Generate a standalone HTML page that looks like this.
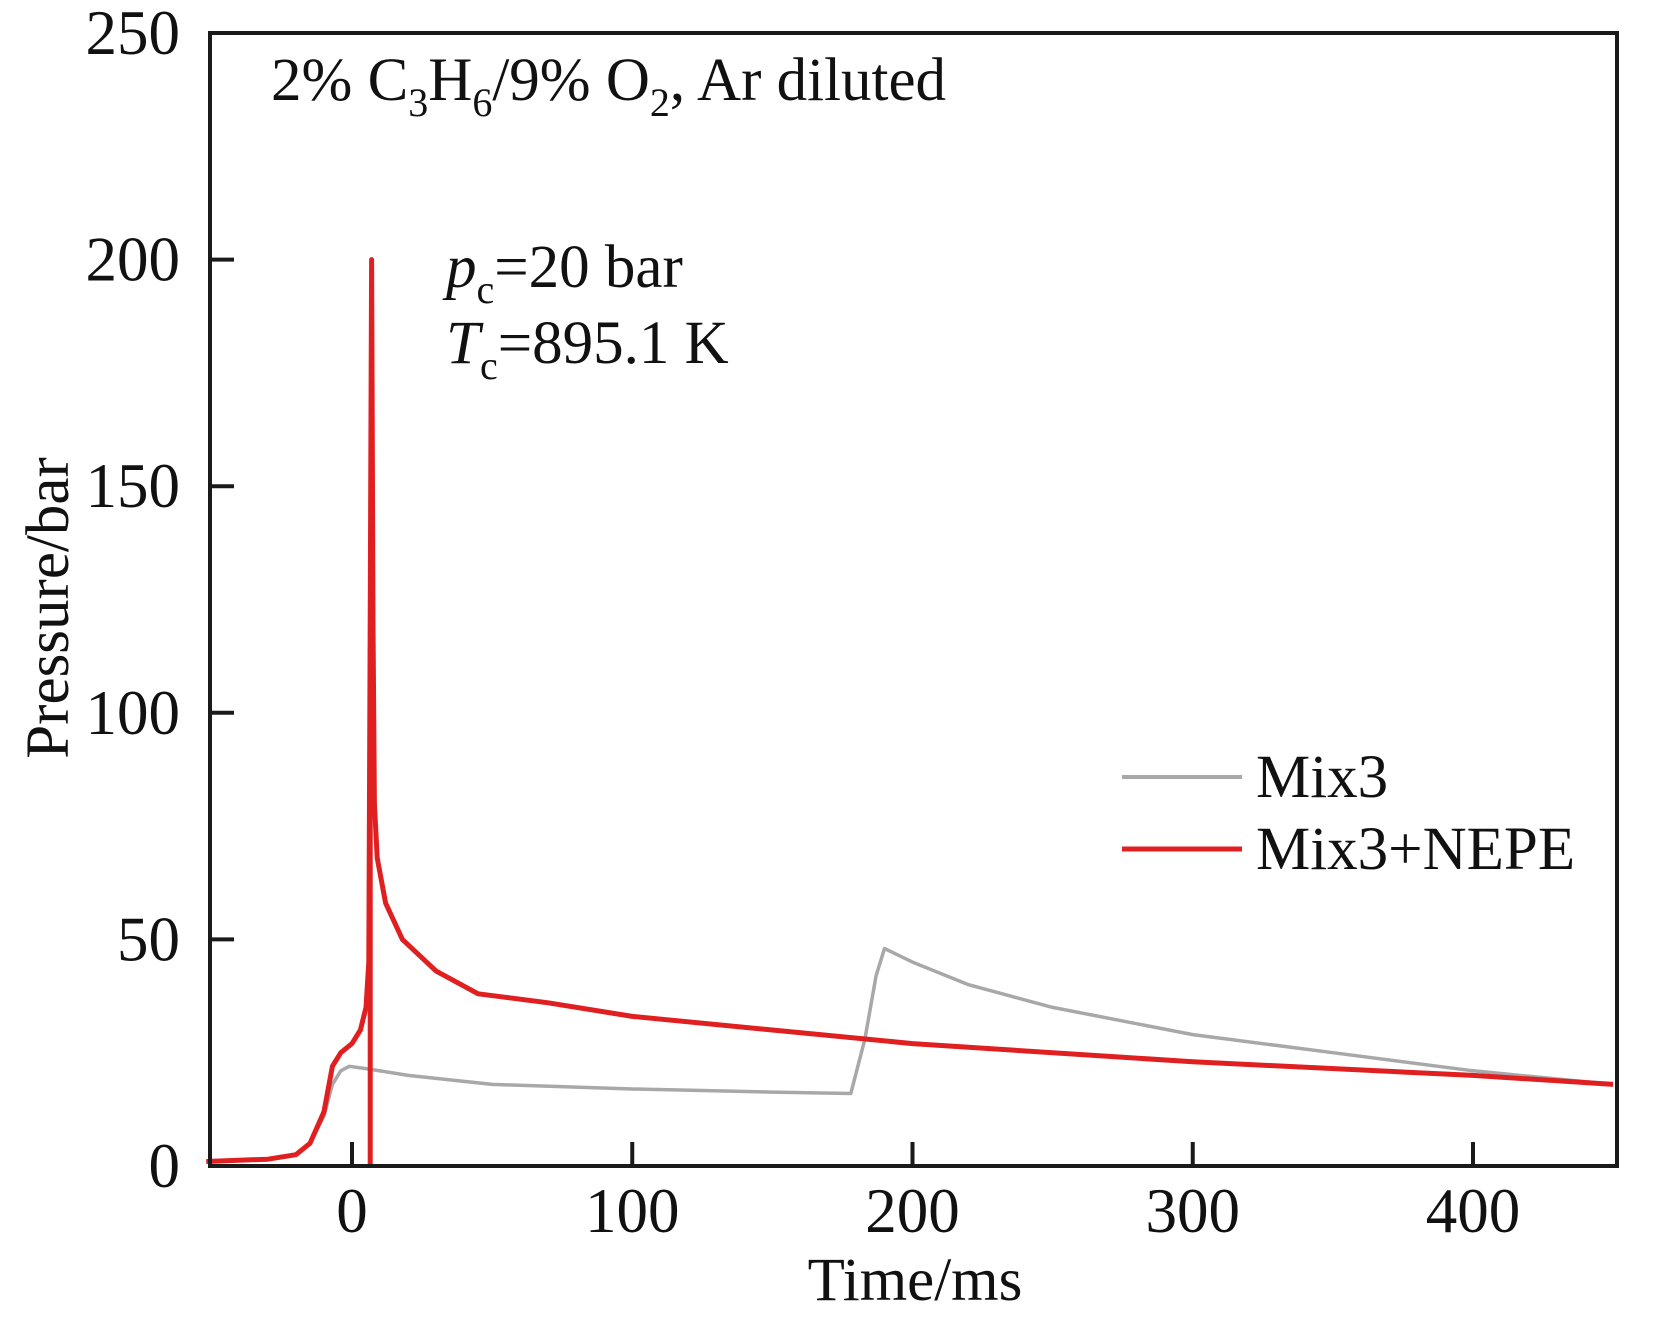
<!DOCTYPE html>
<html><head><meta charset="utf-8"><style>
body{margin:0;background:#fff;}
svg text{font-family:"Liberation Serif",serif;fill:#111;}
</style></head><body>
<svg id="chart" width="1664" height="1317" xmlns="http://www.w3.org/2000/svg">
<g id="grid"></g>
<g id="series"></g>
<rect x="210" y="33" width="1407" height="1133" fill="none" stroke="#1a1a1a" stroke-width="4"/>
<g id="axes"></g>
<text x="271" y="100" font-size="61">2% C<tspan font-size="40" dy="16">3</tspan><tspan dy="-16">H</tspan><tspan font-size="40" dy="16">6</tspan><tspan dy="-16">/9% O</tspan><tspan font-size="40" dy="16">2</tspan><tspan dy="-16">, Ar diluted</tspan></text>
<text x="446" y="287" font-size="61"><tspan font-style="italic">p</tspan><tspan font-size="40" dy="16">c</tspan><tspan dy="-16">=20 bar</tspan></text>
<text x="446" y="363" font-size="61"><tspan font-style="italic">T</tspan><tspan font-size="40" dy="16">c</tspan><tspan dy="-16">=895.1 K</tspan></text>
<text transform="translate(68,608) rotate(-90)" text-anchor="middle" font-size="61">Pressure/bar</text>
<text x="915" y="1300" text-anchor="middle" font-size="61">Time/ms</text>
<g>
<line x1="1122" y1="777" x2="1242" y2="777" stroke="#a8a8a8" stroke-width="4"/>
<text x="1256" y="797" font-size="61">Mix3</text>
<line x1="1122" y1="849" x2="1242" y2="849" stroke="#e02020" stroke-width="5"/>
<text x="1256" y="869" font-size="61">Mix3+NEPE</text>
</g>
</svg>
<script>
const xTicks=[0,100,200,300,400];
const yTicks=[0,50,100,150,200,250];
const mix3T=[-52,-30,-20,-15,-10,-7,-4,-1,5,20,50,100,150,178,183,187,190,200,220,250,300,350,400,450];
const mix3P=[1,1.5,2.5,5,11,18,21,22,21.5,20,18,17,16.3,16,28,42,48,45,40,35,29,25,21,18];
const nepeT=[-52,-30,-20,-15,-10,-7,-4,0,3,5,6,6.5,7,7.5,8,9,12,18,30,45,70,100,150,200,300,400,450];
const nepeP=[1,1.5,2.5,5,12,22,25,27,30,35,45,120,200,120,80,68,58,50,43,38,36,33,30,27,23,20,18];
const X=t=>352+(t*2.8025), Y=p=>1166-p*4.532;
const NS="http://www.w3.org/2000/svg";
const ax=document.getElementById('axes'), se=document.getElementById('series');
function mk(tag,at,parent){const e=document.createElementNS(NS,tag);for(const k in at)e.setAttribute(k,at[k]);parent.appendChild(e);return e;}
xTicks.forEach(v=>{
 const l=mk('line',{x1:X(v),x2:X(v),y1:1166,y2:1142,stroke:'#1a1a1a','stroke-width':4},ax);
 
 
 const t=mk('text',{x:X(v),y:1232,'text-anchor':'middle','font-size':63},ax);t.textContent=v;
 
 
});
yTicks.forEach(v=>{
 if(v>0&&v<250){const l=mk('line',{x1:210,x2:234,y1:Y(v),y2:Y(v),stroke:'#1a1a1a','stroke-width':4},ax);
 
 }
 const t=mk('text',{x:180,y:Y(v)+21,'text-anchor':'end','font-size':63},ax);t.textContent=v;
 
 
});
function path(T,P){return T.map((t,i)=>(i?'L':'M')+X(t).toFixed(1)+','+Y(P[i]).toFixed(1)).join(' ');}
const g=mk('path',{d:path(mix3T,mix3P),fill:'none',stroke:'#a8a8a8','stroke-width':3.5,'stroke-linejoin':'round'},se);


const r=mk('path',{d:path(nepeT,nepeP),fill:'none',stroke:'#e02020','stroke-width':5,'stroke-linejoin':'round'},se);


const v=mk('line',{x1:X(6.5),x2:X(6.5),y1:Y(80),y2:1166,stroke:'#e02020','stroke-width':5},se);


</script>
</body></html>
